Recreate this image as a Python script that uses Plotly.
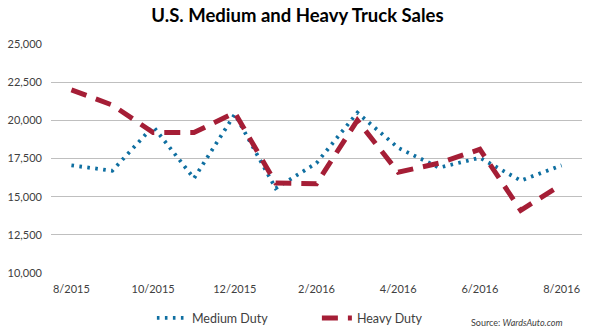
import plotly.graph_objects as go

months = ["8/2015", "9/2015", "10/2015", "11/2015", "12/2015", "1/2016", "2/2016",
          "3/2016", "4/2016", "5/2016", "6/2016", "7/2016", "8/2016"]
medium_duty = [17050, 16700, 19600, 16200, 20400, 15550, 17200, 20500, 18200, 16900, 17550, 16050, 17050]
heavy_duty = [22000, 21000, 19200, 19200, 20500, 15900, 15850, 20000, 16600, 17200, 18100, 14100, 15800]
tick_months = ["8/2015", "10/2015", "12/2015", "2/2016", "4/2016", "6/2016", "8/2016"]
y_ticks = [10000, 12500, 15000, 17500, 20000, 22500, 25000]

FONT = "Lato, 'Open Sans', sans-serif"

fig = go.Figure()
fig.add_trace(go.Scatter(
    x=months, y=medium_duty, name="Medium Duty", mode="lines",
    line=dict(color="#0F6FA1", width=3.8, dash="2.6px,5.4px"),
))
fig.add_trace(go.Scatter(
    x=months, y=heavy_duty, name="Heavy Duty", mode="lines",
    line=dict(color="#A51E36", width=5, dash="16px,10px"),
))

fig.update_layout(
    width=595, height=335,
    margin=dict(l=51, r=13, t=44, b=62, autoexpand=False),
    paper_bgcolor="white", plot_bgcolor="white",
    font=dict(family=FONT, color="#404040", size=11),
    title=dict(text="<b>U.S. Medium and Heavy Truck Sales</b>",
               x=0.5, xanchor="center", y=0.955, yanchor="middle",
               font=dict(family=FONT, size=18.5, color="#000000")),
    xaxis=dict(type="category", tickmode="array", tickvals=tick_months, ticktext=tick_months,
               range=[-0.5, 12.5],
               showgrid=False, showline=False, ticks="", zeroline=False,
               ticklabelstandoff=8,
               tickfont=dict(size=11, color="#404040")),
    yaxis=dict(range=[10000, 25000], tickvals=y_ticks, tickformat=",d",
               showgrid=True, gridcolor="#BFBFBF", gridwidth=1, zeroline=False,
               showline=False, ticks="", ticklabelstandoff=8,
               tickfont=dict(size=11, color="#404040")),
    legend=dict(orientation="h", x=0.19, xanchor="left", yref="container", y=0.05,
                yanchor="middle", entrywidth=120, entrywidthmode="pixels",
                font=dict(size=12.5, color="#404040"), itemwidth=30,
                bgcolor="rgba(0,0,0,0)"),
    showlegend=True,
)
fig.add_annotation(text="Source: <i>WardsAuto.com</i>", xref="paper", yref="paper",
                   x=0.966, y=-0.214, xanchor="right", yanchor="middle", showarrow=False,
                   font=dict(size=9, color="#404040"))

fig.write_html("out.html")
